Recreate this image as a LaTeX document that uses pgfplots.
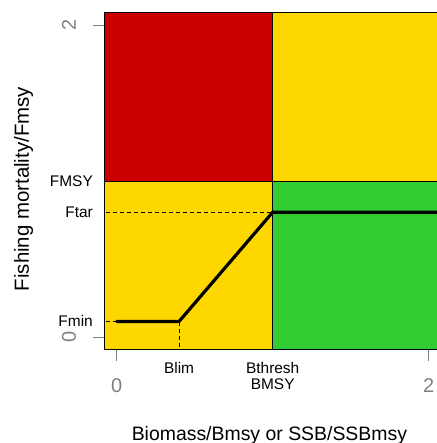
\documentclass[border=0pt]{standalone}
\usepackage{pgfplots}
\pgfplotsset{compat=1.18}
\usepackage{fontspec}
\setmainfont{Liberation Sans}
\definecolor{kred}{RGB}{205,0,0}
\definecolor{kyel}{RGB}{255,215,0}
\definecolor{kgrn}{RGB}{50,205,50}
\definecolor{tickgray}{RGB}{128,128,128}
\begin{document}
\begin{tikzpicture}
\useasboundingbox (-104.2bp,-93.5bp) rectangle (332.8bp,349.5bp);
\begin{axis}[
  scale only axis, width=337bp, height=337bp,
  xmin=-0.08, xmax=2.08, ymin=-0.08, ymax=2.08,
  axis on top,
  axis line style={black, line width=0.8bp},
  xtick={0,2}, ytick={0,2},
  xticklabel={\fontsize{20}{22}\selectfont\color{tickgray}\pgfmathprintnumber[assume math mode=true]{\tick}},
  yticklabel={\fontsize{20}{22}\selectfont\color{tickgray}\pgfmathprintnumber[assume math mode=true]{\tick}},
  tick pos=left, tick align=outside,
  major tick length=11bp,
  major tick style={tickgray, line width=0.8bp},
  xticklabel style={anchor=base, yshift=-32.2bp},
  yticklabel style={xshift=-17.2bp, rotate=90, anchor=base},
  extra x ticks={0.4,1},
  extra x tick labels={Blim,{Bthresh\\BMSY}},
  extra x tick style={major tick length=0pt, major tick style={draw=none},
    every x tick label/.style={black, font=\fontsize{15.5}{16}\selectfont, align=center, anchor=north, inner sep=0pt, yshift=-12.8bp}},
  extra y ticks={0.1,0.8,1},
  extra y tick labels={Fmin,Ftar,FMSY},
  extra y tick style={major tick length=0pt, major tick style={draw=none},
    every y tick label/.style={black, font=\fontsize{15.5}{16}\selectfont, anchor=base east, inner sep=0pt, xshift=-11.2bp, yshift=-5.5bp}},
  xlabel={Biomass/Bmsy or SSB/SSBmsy},
  ylabel={Fishing mortality/Fmsy},
  every axis x label/.style={at={(axis description cs:0.4902,0)}, anchor=base, yshift=-90.5bp, font=\fontsize{19.5}{22}\selectfont},
  every axis y label/.style={at={(axis description cs:0,0.476)}, xshift=-75.2bp, rotate=90, anchor=base, font=\fontsize{20.5}{22}\selectfont},
]
% zones
\addplot[fill=kred, draw=black, line width=0.6bp] coordinates {(-1,1) (1,1) (1,3) (-1,3)} -- cycle;
\addplot[fill=kyel, draw=black, line width=0.6bp] coordinates {(1,1) (3,1) (3,3) (1,3)} -- cycle;
\addplot[fill=kyel, draw=black, line width=0.6bp] coordinates {(-1,-1) (1,-1) (1,1) (-1,1)} -- cycle;
\addplot[fill=kgrn, draw=black, line width=0.6bp] coordinates {(1,-1) (3,-1) (3,1) (1,1)} -- cycle;
% reference dashed lines
\addplot[black, line width=0.7bp, dash pattern=on 4bp off 3bp] coordinates {(-0.2,0.8) (1,0.8)};
\addplot[black, line width=0.7bp, dash pattern=on 4bp off 3bp] coordinates {(-0.2,0.1) (0,0.1)};
\addplot[black, line width=0.7bp, dash pattern=on 4bp off 3bp] coordinates {(0.4,-0.2) (0.4,0.1)};
% harvest control rule
\addplot[black, line width=3.2bp, line cap=round, line join=round] coordinates {(0,0.1) (0.4,0.1) (1,0.8) (2.3,0.8)};
\end{axis}
\end{tikzpicture}
\end{document}
